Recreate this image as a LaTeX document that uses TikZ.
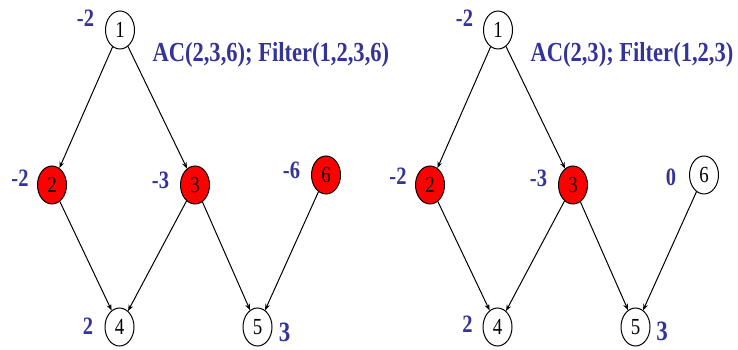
\documentclass[tikz,border=0pt]{standalone}
\usepackage{fontspec}
\setmainfont{Liberation Serif}[FakeStretch=0.82]
\usetikzlibrary{arrows.meta,shapes.geometric}
\definecolor{azul}{RGB}{51,51,153}

\begin{document}
\begin{tikzpicture}[x=1pt,y=1pt,line width=1pt,>={Stealth[length=2.2mm,width=1.7mm]},
  vtx/.style={draw,ellipse,minimum width=29pt,minimum height=38pt,inner sep=0pt,font=\fontsize{23}{23}\selectfont},
  lbl/.style={text=azul,inner sep=0pt,font=\bfseries\fontsize{25}{25}\selectfont}]
  \useasboundingbox (0,0) rectangle (738,350);
  % los dos grafos (antes / despues)
  \foreach \g/\dx/\c in {L/0/red,R/378/white}{
    \node[vtx] (\g1) at (\dx+120,320) {1};
    \node[vtx,fill=red] (\g2) at (\dx+52,165) {2};
    \node[vtx,fill=red] (\g3) at (\dx+195,165) {3};
    \node[vtx,fill=\c] (\g6) at (\dx+326,175) {6};
    \node[vtx] (\g4) at (\dx+119.5,23) {4};
    \node[vtx] (\g5) at (\dx+257.5,23) {5};
    \foreach \a/\b in {1/2,1/3,2/4,3/4,3/5,6/5} \draw[->] (\g\a) -- (\g\b);
  }
  % costes izquierda
  \node[lbl] (cL1) at (85.5,332) {-2};
  \node[lbl] (cL2) at (20,172) {-2};
  \node[lbl] (cL3) at (160.5,170) {-3};
  \node[lbl] (cL6) at (291.5,180) {-6};
  \node[lbl] (cL4) at (88,24) {2};
  \node[lbl,font=\bfseries\fontsize{28}{28}\selectfont] (cL5) at (284.5,18) {3};
  \node[lbl,anchor=base west,font=\bfseries\fontsize{27.5}{27.5}\selectfont] (acL) at (152,288) {AC(2,3,6); Filter(1,2,3,6)};
  % costes derecha
  \node[lbl] (cR1) at (464.5,332) {-2};
  \node[lbl] (cR2) at (398,174) {-2};
  \node[lbl] (cR3) at (538.5,172) {-3};
  \node[lbl] (cR6) at (671,173) {0};
  \node[lbl] (cR4) at (467.5,26) {2};
  \node[lbl,font=\bfseries\fontsize{28}{28}\selectfont] (cR5) at (662,19) {3};
  \node[lbl,anchor=base west,font=\bfseries\fontsize{27.5}{27.5}\selectfont] (acR) at (530,288) {AC(2,3); Filter(1,2,3)};
\end{tikzpicture}
\end{document}
